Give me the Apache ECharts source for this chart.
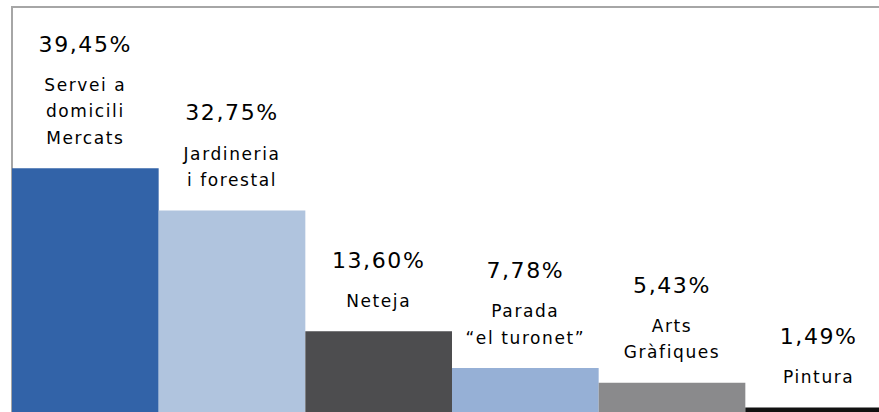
<!DOCTYPE html>
<html>
<head>
<meta charset="utf-8">
<script src="https://cdn.jsdelivr.net/npm/echarts@6/dist/echarts.min.js"></script>
<style>
html,body{margin:0;padding:0;background:#fff;}
#chart{width:879px;height:412px;}
#chart text{letter-spacing:1.6px;}
</style>
</head>
<body>
<div id="chart"></div>
<script>
var categories = ['Servei a\ndomicili\nMercats', 'Jardineria\ni forestal', 'Neteja', 'Parada\n\u201cel turonet\u201d', 'Arts\nGr\u00e0fiques', 'Pintura'];
var values = [39.45, 32.75, 13.60, 7.78, 5.43, 1.49];
var valueLabels = ['39,45%', '32,75%', '13,60%', '7,78%', '5,43%', '1,49%'];
var barColors = ['#3263a8', '#b0c4de', '#4d4d4f', '#96b0d6', '#8a8a8c', '#111111'];

var chart = echarts.init(document.getElementById('chart'), null, {renderer: 'svg'});
chart.setOption({
  backgroundColor: '#ffffff',
  animation: false,
  grid: {
    left: 12, top: 7, width: 880, height: 410,
    outerBoundsMode: 'none', containLabel: false,
    show: true, borderColor: '#a6a6a6', borderWidth: 2, backgroundColor: 'transparent'
  },
  xAxis: {
    type: 'category', data: categories,
    axisLine: {show: false}, axisTick: {show: false}, axisLabel: {show: false}, splitLine: {show: false}
  },
  yAxis: {
    type: 'value', min: 0, max: 65,
    axisLine: {show: false}, axisTick: {show: false}, axisLabel: {show: false}, splitLine: {show: false}
  },
  series: [{
    type: 'bar',
    barCategoryGap: '0%',
    data: values.map(function (v, i) {
      return {value: v, itemStyle: {color: barColors[i]}};
    }),
    label: {
      show: true,
      position: 'top',
      distance: 17,
      align: 'center',
      fontFamily: 'DejaVu Sans',
      formatter: function (p) {
        var lines = categories[p.dataIndex].split('\n').map(function (s) { return '{n|' + s + '}'; });
        return '{p|' + valueLabels[p.dataIndex] + '}\n' + lines.join('\n');
      },
      rich: {
        p: {fontSize: 22, lineHeight: 55, color: '#000', fontFamily: 'DejaVu Sans'},
        n: {fontSize: 17, lineHeight: 26.5, color: '#000', fontFamily: 'DejaVu Sans'}
      }
    }
  }]
});
</script>
</body>
</html>
